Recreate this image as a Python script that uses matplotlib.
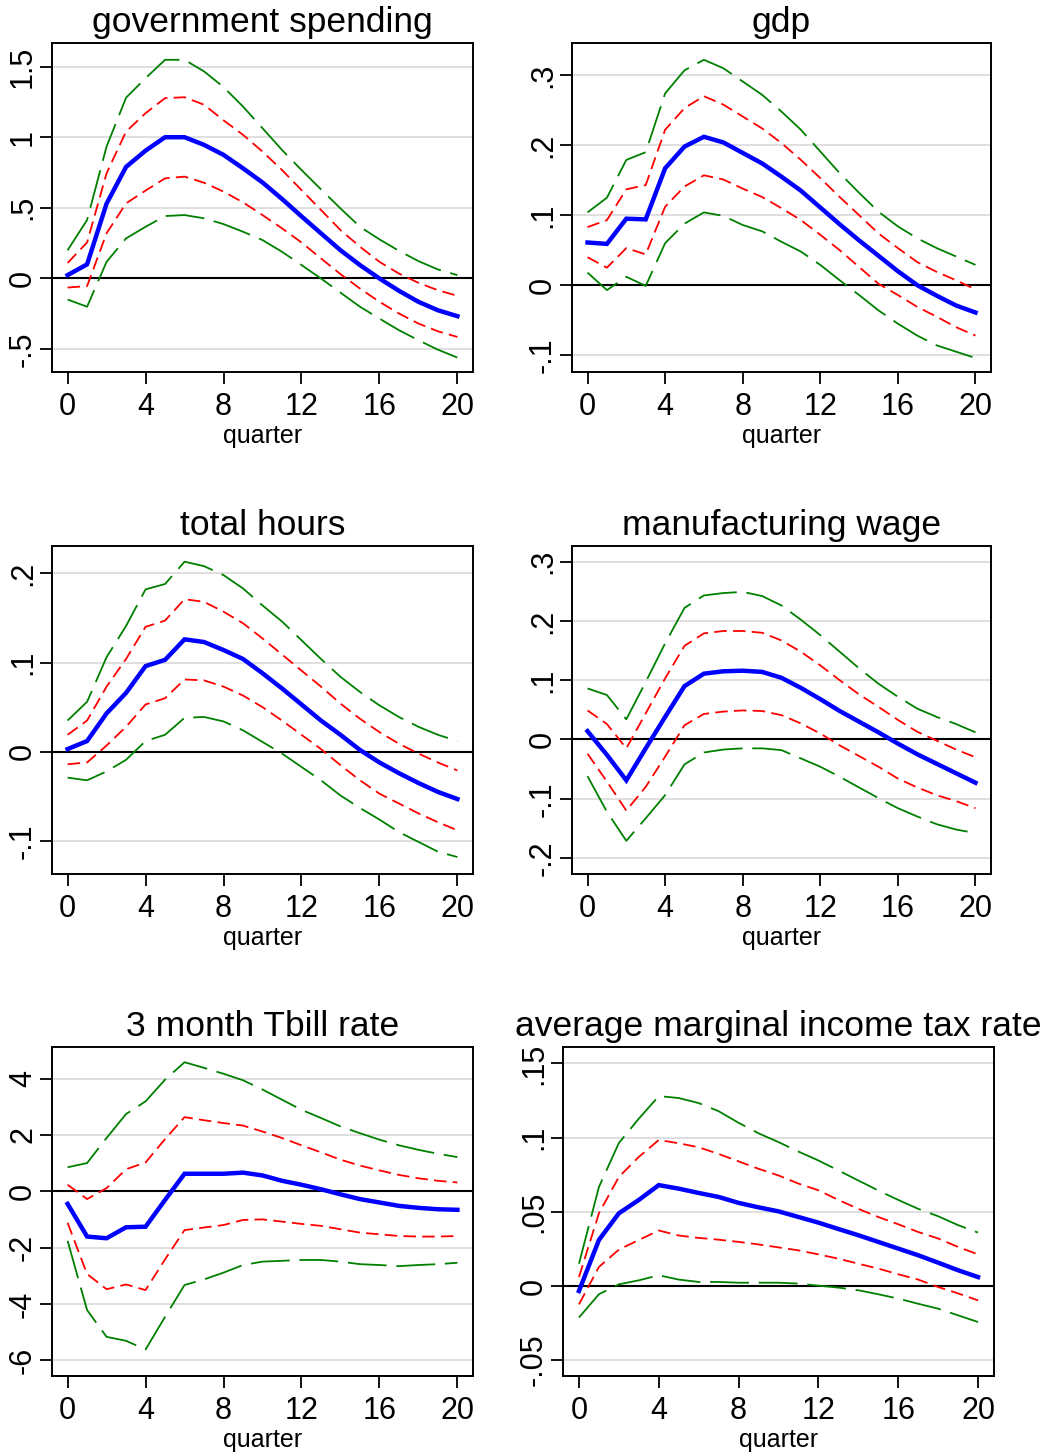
import numpy as np
import matplotlib.pyplot as plt

plt.rcParams['font.family'] = ['Liberation Sans', 'DejaVu Sans']
plt.rcParams['lines.scale_dashes'] = False

quarter = np.arange(21)

# government spending
gov_mid = [0.024, 0.10, 0.53, 0.79, 0.905, 1.0, 1.0, 0.946, 0.875, 0.78, 0.68,
           0.563, 0.44, 0.32, 0.20, 0.095, 0.0, -0.087, -0.165, -0.225, -0.267]
gov_hi68 = [0.11, 0.255, 0.745, 1.04, 1.17, 1.277, 1.283, 1.23, 1.12, 1.017, 0.898,
            0.768, 0.626, 0.485, 0.343, 0.225, 0.118, 0.035, -0.031, -0.083, -0.123]
gov_lo68 = [-0.064, -0.054, 0.32, 0.532, 0.622, 0.709, 0.721, 0.678, 0.615, 0.539, 0.449,
            0.355, 0.255, 0.142, 0.031, -0.071, -0.165, -0.248, -0.319, -0.374, -0.414]
gov_hi95 = [0.20, 0.414, 0.934, 1.28, 1.418, 1.548, 1.548, 1.466, 1.355, 1.217, 1.064,
            0.91, 0.768, 0.631, 0.496, 0.366, 0.277, 0.196, 0.123, 0.064, 0.024]
gov_lo95 = [-0.149, -0.20, 0.118, 0.284, 0.366, 0.442, 0.449, 0.426, 0.385, 0.331, 0.272,
            0.189, 0.095, 0.0, -0.10, -0.20, -0.284, -0.366, -0.437, -0.504, -0.56]

# gdp
gdp_mid = [0.061, 0.059, 0.095, 0.094, 0.167, 0.198, 0.212, 0.204, 0.189, 0.174, 0.155,
           0.135, 0.111, 0.087, 0.064, 0.042, 0.020, 0.0, -0.015, -0.029, -0.039]
gdp_hi68 = [0.083, 0.093, 0.137, 0.143, 0.222, 0.253, 0.27, 0.258, 0.241, 0.224, 0.203,
            0.179, 0.153, 0.126, 0.10, 0.074, 0.053, 0.033, 0.019, 0.007, -0.006]
gdp_lo68 = [0.040, 0.025, 0.053, 0.044, 0.112, 0.141, 0.157, 0.151, 0.138, 0.126, 0.11,
            0.093, 0.072, 0.05, 0.026, 0.002, -0.014, -0.031, -0.045, -0.06, -0.072]
gdp_hi95 = [0.104, 0.125, 0.179, 0.19, 0.274, 0.307, 0.322, 0.31, 0.291, 0.272, 0.248,
            0.222, 0.191, 0.16, 0.132, 0.105, 0.084, 0.067, 0.053, 0.041, 0.029]
gdp_lo95 = [0.018, -0.007, 0.012, -0.001, 0.06, 0.088, 0.104, 0.099, 0.086, 0.077, 0.062,
            0.048, 0.029, 0.007, -0.014, -0.036, -0.055, -0.072, -0.086, -0.095, -0.104]

# total hours
hrs_mid = [0.003, 0.012, 0.043, 0.066, 0.096, 0.103, 0.126, 0.123, 0.114, 0.104, 0.088,
           0.071, 0.053, 0.035, 0.019, 0.002, -0.012, -0.024, -0.035, -0.045, -0.053]
hrs_hi68 = [0.019, 0.035, 0.073, 0.104, 0.14, 0.147, 0.171, 0.168, 0.157, 0.144, 0.127,
            0.109, 0.091, 0.073, 0.054, 0.037, 0.022, 0.009, -0.002, -0.012, -0.021]
hrs_lo68 = [-0.014, -0.012, 0.007, 0.028, 0.053, 0.06, 0.081, 0.08, 0.073, 0.063, 0.05,
            0.035, 0.019, 0.003, -0.015, -0.032, -0.047, -0.058, -0.069, -0.079, -0.088]
hrs_hi95 = [0.035, 0.056, 0.106, 0.141, 0.182, 0.188, 0.213, 0.208, 0.198, 0.183, 0.164,
            0.146, 0.125, 0.104, 0.084, 0.067, 0.052, 0.039, 0.028, 0.019, 0.012]
hrs_lo95 = [-0.029, -0.032, -0.022, -0.009, 0.012, 0.019, 0.038, 0.039, 0.034, 0.024, 0.011,
            -0.002, -0.017, -0.032, -0.049, -0.063, -0.076, -0.09, -0.101, -0.112, -0.118]

# manufacturing wage
wage_mid = [0.014, -0.026, -0.069, -0.015, 0.038, 0.09, 0.111, 0.115, 0.116, 0.114, 0.104,
            0.087, 0.068, 0.048, 0.03, 0.012, -0.007, -0.025, -0.041, -0.057, -0.073]
wage_hi68 = [0.049, 0.026, -0.015, 0.044, 0.103, 0.158, 0.179, 0.183, 0.183, 0.18, 0.167,
             0.148, 0.125, 0.10, 0.076, 0.055, 0.033, 0.013, -0.002, -0.017, -0.03]
wage_lo68 = [-0.024, -0.071, -0.12, -0.08, -0.029, 0.024, 0.043, 0.047, 0.049, 0.048, 0.041,
             0.027, 0.01, -0.01, -0.028, -0.046, -0.066, -0.081, -0.094, -0.104, -0.116]
wage_hi95 = [0.086, 0.075, 0.034, 0.097, 0.162, 0.222, 0.243, 0.247, 0.249, 0.242, 0.226,
             0.202, 0.176, 0.148, 0.12, 0.094, 0.072, 0.052, 0.038, 0.026, 0.012]
wage_lo95 = [-0.062, -0.122, -0.171, -0.133, -0.094, -0.042, -0.022, -0.017, -0.015, -0.015, -0.018,
             -0.032, -0.046, -0.063, -0.081, -0.099, -0.116, -0.13, -0.143, -0.152, -0.158]

# 3 month Tbill rate
tb_mid = [-0.45, -1.61, -1.67, -1.28, -1.26, -0.31, 0.62, 0.62, 0.62, 0.66, 0.56,
          0.37, 0.23, 0.07, -0.11, -0.28, -0.40, -0.52, -0.59, -0.64, -0.66]
tb_hi68 = [0.23, -0.28, 0.11, 0.78, 1.02, 1.85, 2.63, 2.52, 2.42, 2.33, 2.12,
           1.89, 1.63, 1.38, 1.12, 0.91, 0.74, 0.58, 0.46, 0.37, 0.31]
tb_lo68 = [-1.12, -2.94, -3.48, -3.31, -3.51, -2.42, -1.38, -1.29, -1.20, -1.02, -1.0,
           -1.08, -1.16, -1.23, -1.35, -1.47, -1.53, -1.59, -1.61, -1.61, -1.59]
tb_hi95 = [0.85, 1.0, 1.89, 2.74, 3.19, 3.96, 4.58, 4.38, 4.17, 3.94, 3.61,
           3.25, 2.89, 2.60, 2.30, 2.06, 1.83, 1.63, 1.47, 1.33, 1.21]
tb_lo95 = [-1.76, -4.22, -5.17, -5.31, -5.62, -4.46, -3.33, -3.13, -2.89, -2.62, -2.50,
           -2.47, -2.44, -2.44, -2.50, -2.59, -2.62, -2.66, -2.62, -2.59, -2.54]

# average marginal income tax rate
tax_mid = [-0.0034, 0.031, 0.049, 0.058, 0.068, 0.0656, 0.0627, 0.060, 0.056, 0.053, 0.0503,
           0.0465, 0.0427, 0.0384, 0.0342, 0.0297, 0.0252, 0.0207, 0.0157, 0.0106, 0.006]
tax_hi68 = [0.006, 0.049, 0.0735, 0.087, 0.0984, 0.0962, 0.0935, 0.089, 0.084, 0.079, 0.0745,
            0.069, 0.0645, 0.058, 0.052, 0.0465, 0.0416, 0.0364, 0.032, 0.0263, 0.0213]
tax_lo68 = [-0.0124, 0.0128, 0.0245, 0.031, 0.0374, 0.034, 0.0324, 0.0312, 0.0297, 0.028, 0.026,
            0.024, 0.0213, 0.0184, 0.015, 0.0117, 0.0079, 0.0043, -0.0007, -0.005, -0.0097]
tax_hi95 = [0.015, 0.0667, 0.0964, 0.1128, 0.128, 0.1267, 0.1233, 0.1178, 0.11, 0.1029, 0.097,
            0.0906, 0.0846, 0.0779, 0.0711, 0.0644, 0.058, 0.052, 0.047, 0.041, 0.036]
tax_lo95 = [-0.0213, -0.0056, 0.0011, 0.0038, 0.0072, 0.0043, 0.0027, 0.0027, 0.0022, 0.0022, 0.0022,
            0.0016, 0.0002, -0.0011, -0.0029, -0.0056, -0.0085, -0.012, -0.0153, -0.0198, -0.0243]

titles = ["government spending", "gdp", "total hours", "manufacturing wage",
          "3 month Tbill rate", "average marginal income tax rate"]
mids = [gov_mid, gdp_mid, hrs_mid, wage_mid, tb_mid, tax_mid]
hi68 = [gov_hi68, gdp_hi68, hrs_hi68, wage_hi68, tb_hi68, tax_hi68]
lo68 = [gov_lo68, gdp_lo68, hrs_lo68, wage_lo68, tb_lo68, tax_lo68]
hi95 = [gov_hi95, gdp_hi95, hrs_hi95, wage_hi95, tb_hi95, tax_hi95]
lo95 = [gov_lo95, gdp_lo95, hrs_lo95, wage_lo95, tb_lo95, tax_lo95]

yticks = [[-0.5, 0, 0.5, 1, 1.5], [-0.1, 0, 0.1, 0.2, 0.3], [-0.1, 0, 0.1, 0.2],
          [-0.2, -0.1, 0, 0.1, 0.2, 0.3], [-6, -4, -2, 0, 2, 4], [-0.05, 0, 0.05, 0.1, 0.15]]
ytick_labels = [["-.5", "0", ".5", "1", "1.5"], ["-.1", "0", ".1", ".2", ".3"],
                ["-.1", "0", ".1", ".2"], ["-.2", "-.1", "0", ".1", ".2", ".3"],
                ["-6", "-4", "-2", "0", "2", "4"], ["-.05", "0", ".05", ".1", ".15"]]
xticks = [0, 4, 8, 12, 16, 20]

# layout in pixels: left, top, right, bottom of each plot box
W, H = 1046, 1452
boxes = [(52, 43, 473, 372), (572, 43, 991, 372),
         (52, 546, 473, 874), (572, 546, 991, 874),
         (52, 1047, 473, 1376), (563, 1047, 994, 1376)]
ylims = [(-0.662, 1.667), (-0.124, 0.346), (-0.137, 0.2306),
         (-0.227, 0.3264), (-6.56, 5.12), (-0.0607, 0.1611)]

fig = plt.figure(figsize=(W / 100, H / 100), dpi=100)

for i in range(6):
    l, t, r, b = boxes[i]
    ax = fig.add_axes([l / W, 1 - b / H, (r - l) / W, (b - t) / H])
    for yv in yticks[i]:
        ax.axhline(yv, color="#dcdcdc", lw=1.3, zorder=1)
    ax.axhline(0, color="black", lw=1.5, zorder=2)
    ax.plot(quarter, hi95[i], color="#008000", lw=1.3, dashes=(28, 7), zorder=3)
    ax.plot(quarter, lo95[i], color="#008000", lw=1.3, dashes=(28, 7), zorder=3)
    ax.plot(quarter, hi68[i], color="red", lw=1.3, dashes=(9, 4.5), zorder=4)
    ax.plot(quarter, lo68[i], color="red", lw=1.3, dashes=(9, 4.5), zorder=4)
    ax.plot(quarter, mids[i], color="blue", lw=3.2, zorder=5, solid_joinstyle="miter")
    ax.set_xlim(-0.8, 20.8)
    ax.set_ylim(*ylims[i])
    ax.set_xticks(xticks)
    ax.set_xticklabels([str(v) for v in xticks], fontsize=22)
    ax.set_yticks(yticks[i])
    ax.set_yticklabels(ytick_labels[i], fontsize=22, rotation=90, va="center")
    ax.tick_params(direction="out", length=8.5, width=1.3)
    ax.tick_params(axis="x", pad=6)
    ax.tick_params(axis="y", pad=1.5)
    for sp in ax.spines.values():
        sp.set_linewidth(1.4)
    ax.set_title(titles[i], fontsize=25.5, pad=8)
    ax.set_xlabel("quarter", fontsize=18, labelpad=1)

fig.savefig("out.png", dpi=100)
